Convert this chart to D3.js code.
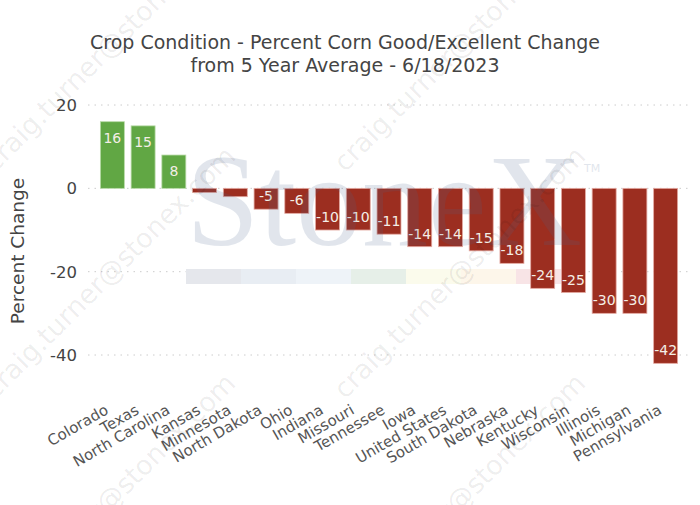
<html>
<head>
<script src="https://d3js.org/d3.v7.min.js"></script>
<style>
  body { margin: 0; background: #fff; }
  text { font-family: "DejaVu Sans", Verdana, sans-serif; }
</style>
</head>
<body>
<svg id="chart" width="700" height="505"></svg>
<script>
    // data
    const states = ["Colorado", "Texas", "North Carolina", "Kansas", "Minnesota", "North Dakota",
        "Ohio", "Indiana", "Missouri", "Tennessee", "Iowa", "United States", "South Dakota",
        "Nebraska", "Kentucky", "Wisconsin", "Illinois", "Michigan", "Pennsylvania"];
    const changes = [16, 15, 8, -1, -2, -5, -6, -10, -10, -11, -14, -14, -15, -18, -24, -25, -30, -30, -42];
    const yTicks = [-40, -20, 0, 20];
    const titleLines = ["Crop Condition - Percent Corn Good/Excellent Change",
        "from 5 Year Average - 6/18/2023"];
    const stripColors = ["#e5e7ec", "#e8edf3", "#eef3f8", "#e6efe8", "#fbfbec", "#fdf6ea", "#f8e4e6"];

    const svg = d3.select("#chart");

    const x = d3.scaleBand()
        .domain(states)
        .range([97, 681])
        .paddingInner(0.22)
        .paddingOuter(0.11);

    const y = d3.scaleLinear()
        .domain([-46, 25])
        .range([380, 84.2]);

    // title
    svg.append("g")
        .selectAll("text")
        .data(titleLines)
        .join("text")
        .attr("x", 345)
        .attr("y", (d, i) => 49 + i * 23)
        .attr("text-anchor", "middle")
        .attr("fill", "#444")
        .style("font-size", "19px")
        .text(d => d);

    // grid
    svg.append("g")
        .selectAll("line")
        .data(yTicks)
        .join("line")
        .attr("x1", 88)
        .attr("x2", 688)
        .attr("y1", d => y(d))
        .attr("y2", d => y(d))
        .attr("stroke", "#ccc")
        .attr("stroke-dasharray", "1.5,5");

    svg.append("g")
        .selectAll("text")
        .data(yTicks)
        .join("text")
        .attr("x", 77)
        .attr("y", d => y(d))
        .attr("dy", "0.36em")
        .attr("text-anchor", "end")
        .attr("fill", "#444")
        .style("font-size", "16.5px")
        .text(d => d);

    svg.append("text")
        .attr("transform", "translate(24,251) rotate(-90)")
        .attr("text-anchor", "middle")
        .attr("fill", "#444")
        .style("font-size", "18.5px")
        .text("Percent Change");

    // logo strip (watermark) sits under the bars
    svg.append("g")
        .selectAll("rect")
        .data(stripColors)
        .join("rect")
        .attr("x", (d, i) => 186 + i * 55)
        .attr("y", 269)
        .attr("width", 55)
        .attr("height", 15)
        .attr("fill", d => d);

    // bars
    svg.append("g")
        .selectAll("rect")
        .data(changes)
        .join("rect")
        .attr("x", (d, i) => x(states[i]))
        .attr("width", x.bandwidth())
        .attr("y", d => y(Math.max(0, d)))
        .attr("height", d => Math.abs(y(d) - y(0)))
        .attr("fill", d => d >= 0 ? "#61a744" : "#9c2e20")
        .attr("stroke", d => d >= 0 ? "#b9dba8" : "#e4aaa2")
        .attr("stroke-width", 0.8);

    // value labels inside the bar ends
    svg.append("g")
        .selectAll("text")
        .data(changes.map((v, i) => ({ v, s: states[i] })).filter(d => Math.abs(d.v) >= 3))
        .join("text")
        .attr("x", d => x(d.s) + x.bandwidth() / 2)
        .attr("y", d => d.v >= 0 ? y(d.v) + 21 : y(d.v) - 8)
        .attr("text-anchor", "middle")
        .attr("fill", "#f4eee6")
        .style("font-size", "14px")
        .text(d => d.v);

    // category labels
    svg.append("g")
        .selectAll("text")
        .data(states)
        .join("text")
        .attr("transform", d => `translate(${x(d) + x.bandwidth() / 2 - 3},413) rotate(-30)`)
        .attr("text-anchor", "end")
        .attr("fill", "#555")
        .style("font-size", "15px")
        .text(d => d);

    // StoneX logo watermark on top
    const logo = svg.append("g").attr("opacity", 0.16);
    logo.append("text")
        .attr("x", 186)
        .attr("y", 245)
        .attr("fill", "#4a6690")
        .style("font-family", "'Liberation Serif', serif")
        .style("font-size", "132px")
        .text("StoneX");
    logo.append("text")
        .attr("x", 584)
        .attr("y", 172)
        .attr("fill", "#4a6690")
        .style("font-size", "11px")
        .text("TM");

    // e-mail watermark grid
    const marks = [];
    for (const cx of [-5, 345]) {
        for (const cy of [173, 400, 627]) marks.push([cx, cy]);
    }
    svg.append("g")
        .selectAll("text")
        .data(marks)
        .join("text")
        .attr("transform", d => `translate(${d[0]},${d[1]}) rotate(-45)`)
        .attr("fill", "#000")
        .attr("fill-opacity", 0.08)
        .style("font-size", "27px")
        .text("craig.turner@stonex.com");
</script>
</body>
</html>
